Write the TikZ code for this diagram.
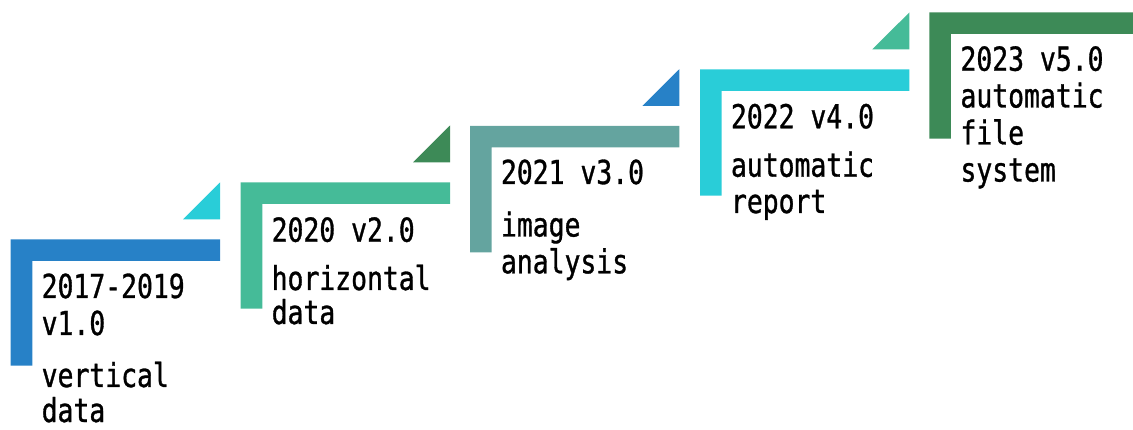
\documentclass[tikz,border=0pt]{standalone}
\usepackage{fontspec}
\newfontfamily\stepfont[FakeStretch=0.8,FakeBold=1]{DejaVu Sans Mono}
\definecolor{cBlue}{HTML}{2781C7}
\definecolor{cCyan}{HTML}{29CDD8}
\definecolor{cMint}{HTML}{45BB98}
\definecolor{cForest}{HTML}{3D8A57}
\definecolor{cTeal}{HTML}{64A49F}
\tikzset{
  lbl/.style={anchor=base west, inner sep=0pt, outer sep=0pt,
              font=\stepfont\fontsize{33}{37}\selectfont, text=black}
}
\begin{document}
\begin{tikzpicture}[x=1pt,y=-1pt]
\useasboundingbox (0,0) rectangle (1133,430);

% stair steps: L-shaped bar plus the small corner triangle of the next colour
\foreach \x/\y/\bc/\tc in {10.7/239.3/cBlue/cCyan, 240.7/182.3/cMint/cForest,
                           470/126/cTeal/cBlue, 700/69.3/cCyan/cMint}{
  \fill[\bc] (\x,\y) -- ++(209.3,0) -- ++(0,21.5) -- ++(-187.7,0)
             -- ++(0,104.9) -- ++(-21.6,0) -- cycle;
  \fill[\tc] (\x+209.3,\y-20) -- ++(0,-36.8) -- ++(-37,36.8) -- cycle;
}
% last step runs off the right edge
\fill[cForest] (929.3,12.3) -- (1133,12.3) -- (1133,33.8) -- (950.9,33.8)
               -- (950.9,138.7) -- (929.3,138.7) -- cycle;

% step 1
\node[lbl] (s1a) at (41.7,298) {2017-2019};
\node[lbl] (s1b) at (41.7,335) {v1.0};
\node[lbl] (s1c) at (41.7,387) {vertical};
\node[lbl] (s1d) at (41.7,422) {data};
% step 2
\node[lbl] (s2a) at (271.7,241.7) {2020 v2.0};
\node[lbl] (s2b) at (271.7,290) {horizontal};
\node[lbl] (s2c) at (271.7,324) {data};
% step 3
\node[lbl] (s3a) at (501,184) {2021 v3.0};
\node[lbl] (s3b) at (501,236.5) {image};
\node[lbl] (s3c) at (501,273.3) {analysis};
% step 4
\node[lbl] (s4a) at (731,128.3) {2022 v4.0};
\node[lbl] (s4b) at (731,176.7) {automatic};
\node[lbl] (s4c) at (731,213) {report};
% step 5
\node[lbl] (s5a) at (960.5,70.7) {2023 v5.0};
\node[lbl] (s5b) at (960.5,107.5) {automatic};
\node[lbl] (s5c) at (960.5,144.5) {file};
\node[lbl] (s5d) at (960.5,181.5) {system};
\end{tikzpicture}
\end{document}
